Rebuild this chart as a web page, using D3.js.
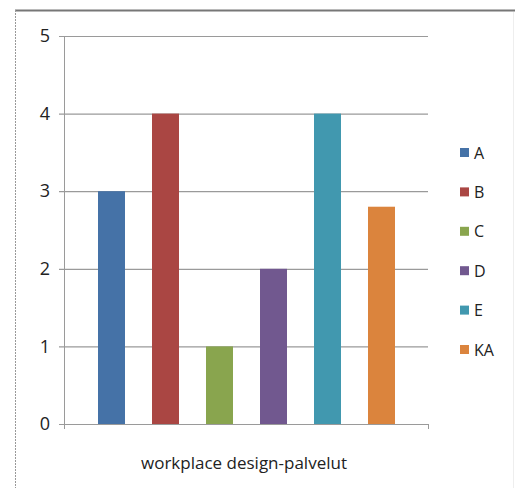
<!DOCTYPE html>
<html>
<head>
<meta charset="utf-8">
<script src="https://cdn.jsdelivr.net/npm/d3@7"></script>
<style>
  html, body { margin: 0; padding: 0; background: #fff; }
  svg { display: block; }
  text { font-family: "Open Sans", "Liberation Sans", sans-serif; fill: #222; }
</style>
</head>
<body>
<svg id="chart" width="515" height="488"></svg>
<script>
// Series in the single category
const category = "workplace design-palvelut";
const series = ["A", "B", "C", "D", "E", "KA"];
const values = [3, 4, 1, 2, 4, 2.8];
const colors = ["#4572A7", "#AA4643", "#89A54E", "#71588F", "#4198AF", "#DB843D"];
const yTicks = [0, 1, 2, 3, 4, 5];

const svg = d3.select("#chart");

// Frame around the chart area
svg.append("line").attr("x1", 15).attr("x2", 515).attr("y1", 10.5).attr("y2", 10.5)
  .attr("stroke", "#777").attr("stroke-width", 2);
svg.append("line").attr("x1", 15.5).attr("x2", 15.5).attr("y1", 10).attr("y2", 488)
  .attr("stroke", "#999").attr("stroke-width", 1).attr("stroke-dasharray", "2,1");
svg.append("line").attr("x1", 513.5).attr("x2", 513.5).attr("y1", 12).attr("y2", 488)
  .attr("stroke", "#eee").attr("stroke-width", 1);

const plot = { left: 64, right: 428, top: 36, bottom: 424 };

const y = d3.scaleLinear().domain([0, 5]).range([plot.bottom, plot.top]);
const x = d3.scaleBand().domain(series).range([plot.left + 7, plot.right - 6]).paddingInner(0.5).paddingOuter(0.5);

// Horizontal gridlines + tick marks
const yAxis = d3.axisLeft(y).tickValues(yTicks).tickSize(-(plot.right - plot.left)).tickPadding(14).tickFormat(d3.format("d"));
const gy = svg.append("g").attr("transform", `translate(${plot.left},0)`).call(yAxis);
gy.select(".domain").remove();
gy.selectAll(".tick line").attr("stroke", "#9a9a9a").attr("stroke-width", 1.2).attr("x1", -5);
gy.selectAll(".tick text").style("font-size", "18px").attr("fill", "#222");

// Vertical axis line
svg.append("line").attr("x1", plot.left + 0.5).attr("x2", plot.left + 0.5)
  .attr("y1", plot.top).attr("y2", plot.bottom + 5).attr("stroke", "#9a9a9a");
// Right tick at the category boundary
svg.append("line").attr("x1", plot.right + 0.5).attr("x2", plot.right + 0.5)
  .attr("y1", plot.bottom).attr("y2", plot.bottom + 5).attr("stroke", "#9a9a9a");

// Bars
svg.append("g").selectAll("rect").data(series).join("rect")
  .attr("x", d => x(d))
  .attr("width", x.bandwidth())
  .attr("y", (d, i) => y(values[i]))
  .attr("height", (d, i) => y(0) - y(values[i]))
  .attr("fill", (d, i) => colors[i]);

// Category label
svg.append("text").attr("x", (plot.left + plot.right) / 2 - 2).attr("y", 469)
  .attr("text-anchor", "middle").style("font-size", "17px").text(category);

// Legend
const legend = svg.append("g").selectAll("g").data(series).join("g")
  .attr("transform", (d, i) => `translate(460, ${153 + i * 39.4})`);
legend.append("rect").attr("x", 0).attr("y", -5).attr("width", 9).attr("height", 9)
  .attr("fill", (d, i) => colors[i]);
legend.append("text").attr("x", 14).attr("y", 0).attr("dy", "0.35em")
  .style("font-size", "16px").text(d => d);
</script>
</body>
</html>
